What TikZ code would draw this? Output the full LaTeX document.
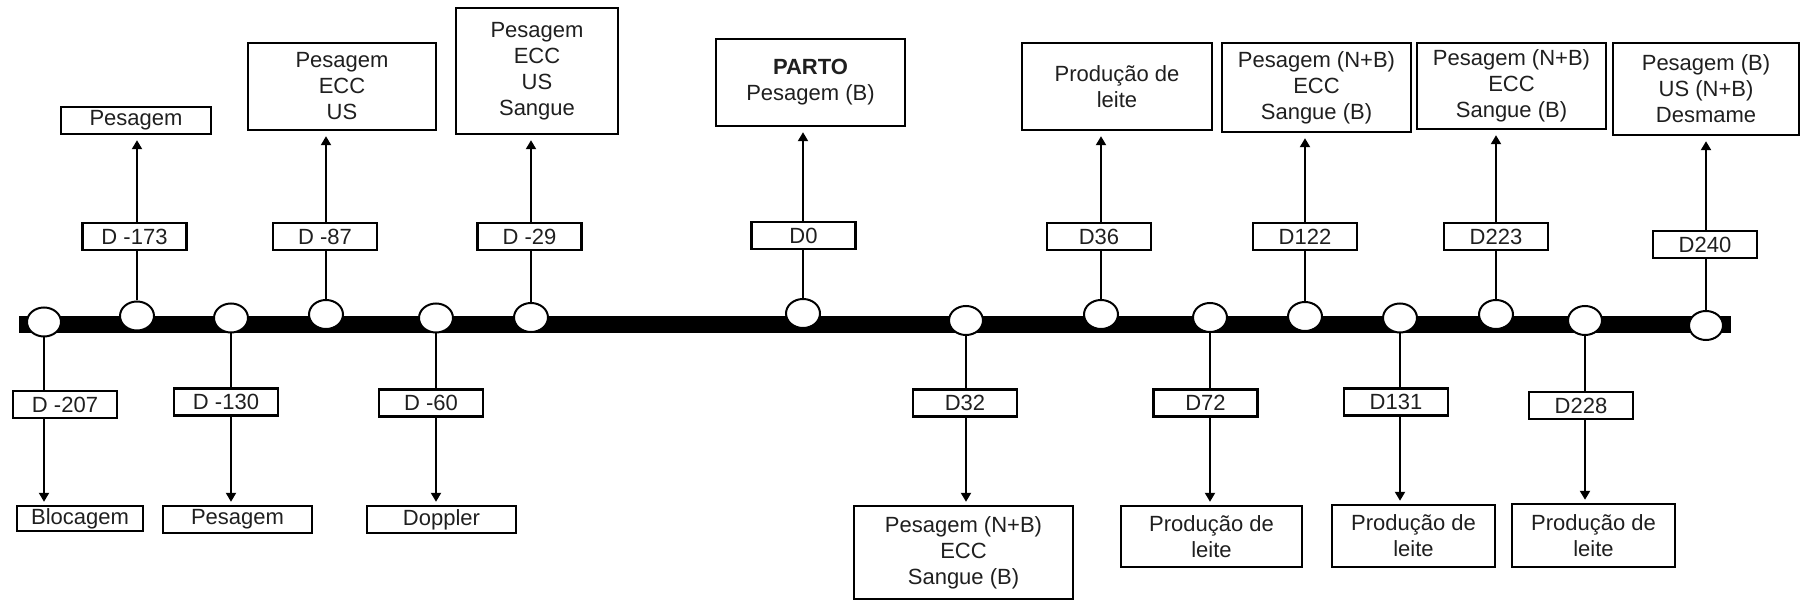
\documentclass[tikz,border=0pt]{standalone}
\usepackage{fontspec}
\setmainfont{Liberation Sans}
\usetikzlibrary{shapes.geometric,arrows.meta}
\begin{document}
\begin{tikzpicture}[x=1pt,y=-1pt,
  box/.style={draw, line width=2.4pt, inner sep=0pt, align=center, text=black!88, font=\fontsize{22}{26}\selectfont},
  dbox/.style={box, minimum width=104pt, minimum height=27pt},
  dot/.style={ellipse, draw, line width=2pt, fill=white, minimum width=34pt, minimum height=29pt, inner sep=0pt},
  conn/.style={line width=2pt},
  arr/.style={conn, -{Triangle[length=9pt,width=10pt]}}
]
\useasboundingbox (0,0) rectangle (1802,601);

% timeline bar
\fill (19,316) rectangle (1731,333);

% event dots
\node[dot] (c1) at (44,322) {};
\node[dot] (c2) at (137,316) {};
\node[dot] (c3) at (231,318) {};
\node[dot] (c4) at (326,314.5) {};
\node[dot] (c5) at (436,318) {};
\node[dot] (c6) at (531,317.5) {};
\node[dot] (c7) at (803,313.5) {};
\node[dot] (c8) at (966,320.5) {};
\node[dot] (c9) at (1101,314.5) {};
\node[dot] (c10) at (1210,317.5) {};
\node[dot] (c11) at (1305,316.5) {};
\node[dot] (c12) at (1400,318) {};
\node[dot] (c13) at (1496,314.5) {};
\node[dot] (c14) at (1585,320.5) {};
\node[dot] (c15) at (1706,325.5) {};

% top day labels
\node[dbox] (d2) at (134.5,236.5) {D -173};
\node[dbox] (d4) at (325,236.5) {D -87};
\node[dbox] (d6) at (529.5,236.5) {D -29};
\node[dbox] (d7) at (803.5,235.5) {D0};
\node[dbox] (d9) at (1099,236.5) {D36};
\node[dbox] (d11) at (1305,236.5) {D122};
\node[dbox] (d13) at (1496,236.5) {D223};
\node[dbox] (d15) at (1705,244.5) {D240};

% bottom day labels
\node[dbox] (d1) at (65,404.5) {D -207};
\node[dbox] (d3) at (226,402) {D -130};
\node[dbox] (d5) at (431,403) {D -60};
\node[dbox] (d8) at (965,403) {D32};
\node[dbox] (d10) at (1205.5,403) {D72};
\node[dbox] (d12) at (1396,402) {D131};
\node[dbox] (d14) at (1581,405.5) {D228};

% top activity boxes
\node[box, minimum width=150pt, minimum height=27pt] (t2) at (136,120.5) {Pesagem};
\node[box, minimum width=188pt, minimum height=87pt] (t4) at (342,86.5) {Pesagem\\ECC\\US};
\node[box, minimum width=162pt, minimum height=126pt] (t6) at (537,71) {Pesagem\\ECC\\US\\Sangue};
\node[box, minimum width=189pt, minimum height=87pt] (t7) at (810.5,82.5) {\textbf{PARTO}\\Pesagem (B)};
\node[box, minimum width=190pt, minimum height=87pt] (t9) at (1117,86.5) {Produção de\\leite};
\node[box, minimum width=189pt, minimum height=89pt] (t11) at (1316.5,87.5) {Pesagem (N+B)\\ECC\\Sangue (B)};
\node[box, minimum width=189pt, minimum height=86pt] (t13) at (1511.5,86) {Pesagem (N+B)\\ECC\\Sangue (B)};
\node[box, minimum width=186pt, minimum height=92pt] (t15) at (1706,89) {Pesagem (B)\\US (N+B)\\Desmame};

% bottom activity boxes
\node[box, minimum width=126pt, minimum height=25pt] (b1) at (80,518.5) {Blocagem};
\node[box, minimum width=149pt, minimum height=27pt] (b3) at (237.5,519.5) {Pesagem};
\node[box, minimum width=149pt, minimum height=27pt] (b5) at (441.5,519.5) {Doppler};
\node[box, minimum width=219pt, minimum height=93pt] (b8) at (963.5,552.5) {Pesagem (N+B)\\ECC\\Sangue (B)};
\node[box, minimum width=181pt, minimum height=61pt] (b10) at (1211.5,536.5) {Produção de\\leite};
\node[box, minimum width=163pt, minimum height=62pt] (b12) at (1413.5,536) {Produção de\\leite};
\node[box, minimum width=163pt, minimum height=63pt] (b14) at (1593.5,535.5) {Produção de\\leite};

% upward connectors
\foreach \c/\d/\t in {c2/d2/t2, c4/d4/t4, c6/d6/t6, c7/d7/t7, c9/d9/t9, c11/d11/t11, c13/d13/t13, c15/d15/t15}{
  \draw[conn] (\c.north) -- (\c.north |- \d.south);
  \draw[arr, shorten >=5pt] (\c.north |- \d.north) -- (\c.north |- \t.south);
}
% downward connectors
\foreach \c/\d/\b in {c1/d1/b1, c3/d3/b3, c5/d5/b5, c8/d8/b8, c10/d10/b10, c12/d12/b12, c14/d14/b14}{
  \draw[conn] (\c.south) -- (\c.south |- \d.north);
  \draw[arr, shorten >=3pt] (\c.south |- \d.south) -- (\c.south |- \b.north);
}
\end{tikzpicture}
\end{document}
